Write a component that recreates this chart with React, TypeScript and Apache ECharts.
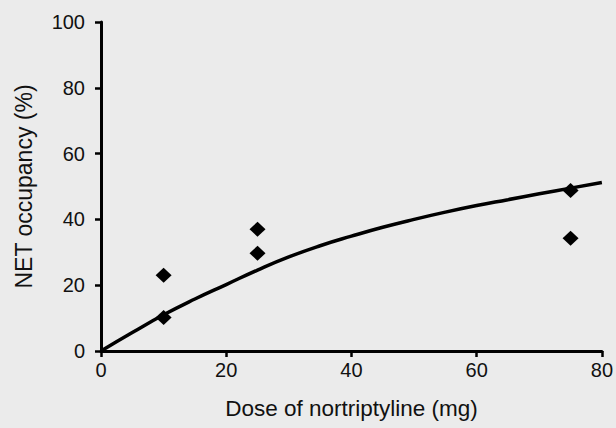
import React, { useEffect, useRef } from "react";
import * as echarts from "echarts";

const xTicks = [0, 20, 40, 60, 80];
const yTicks = [0, 20, 40, 60, 80, 100];

// observed data points: [dose mg, occupancy %]
const observedDose = [10, 10, 25, 25, 75, 75];
const observedOccupancy = [23, 10.2, 37, 29.7, 48.8, 34.3];

// fitted curve
const curveDose = [0, 5, 10, 15, 20, 25, 30, 35, 40, 45, 50, 55, 60, 65, 70, 75, 80];
const curveOccupancy = [0, 5.6, 11.0, 15.8, 20.2, 24.6, 28.6, 32.0, 34.9, 37.6, 40.0, 42.2, 44.2, 46.0, 47.8, 49.5, 51.2];

const FONT = "Liberation Sans";

export default function App() {
  const ref = useRef<HTMLDivElement>(null);
  useEffect(() => {
    if (!ref.current) return;
    const chart = echarts.init(ref.current, undefined, { renderer: "svg" });
    const axisCommon = {
      axisLine: { show: true, lineStyle: { color: "#000", width: 3 } },
      axisTick: { show: true, inside: false, length: 6, lineStyle: { color: "#000", width: 2.5 } },
      splitLine: { show: false },
    };
    const labelStyle = { color: "#111", fontSize: 20, fontFamily: FONT };
    chart.setOption({
      animation: false,
      backgroundColor: "#ebebeb",
      textStyle: { fontFamily: FONT, fontSize: 20 },
      grid: { left: 101, right: 13, top: 22, bottom: 77, containLabel: false },
      xAxis: {
        type: "value",
        min: xTicks[0],
        max: xTicks[xTicks.length - 1],
        interval: 20,
        name: "Dose of nortriptyline (mg)",
        nameLocation: "middle",
        nameGap: 46,
        nameTextStyle: { color: "#111", fontSize: 22.5, fontFamily: FONT },
        ...axisCommon,
        axisLabel: { ...labelStyle, margin: 9 },
      },
      yAxis: {
        type: "value",
        min: yTicks[0],
        max: yTicks[yTicks.length - 1],
        interval: 20,
        name: "NET occupancy (%)",
        nameLocation: "middle",
        nameGap: 66,
        nameTextStyle: { color: "#111", fontSize: 23, fontFamily: FONT },
        ...axisCommon,
        axisLabel: { ...labelStyle, margin: 16 },
      },
      series: [
        {
          type: "line",
          data: curveDose.map((d, i) => [d, curveOccupancy[i]]),
          smooth: true,
          symbol: "none",
          lineStyle: { color: "#000", width: 3.5 },
          z: 2,
        },
        {
          type: "scatter",
          data: observedDose.map((d, i) => [d, observedOccupancy[i]]),
          symbol: "diamond",
          symbolSize: [16, 15],
          itemStyle: { color: "#000", opacity: 1 },
          z: 3,
        },
      ],
    });
    return () => chart.dispose();
  }, []);
  return (
    <div
      ref={ref}
      style={{ position: "fixed", left: 0, top: 0, width: 616, height: 428 }}
    />
  );
}
